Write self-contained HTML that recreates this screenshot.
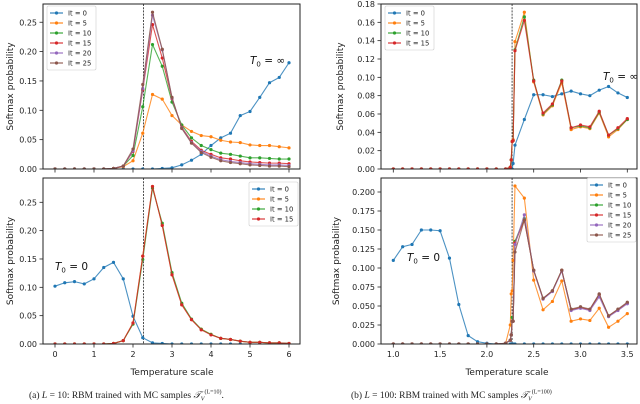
<!DOCTYPE html>
<html><head><meta charset="utf-8">
<style>
html,body{margin:0;padding:0;background:#fff;}
svg{display:block;font-family:"DejaVu Sans","Liberation Sans",sans-serif;}
.cap{font-family:"Liberation Serif",serif;font-size:9.5px;}
</style></head>
<body>
<svg id="fig" width="640" height="404" viewBox="0 0 640 404"></svg>
<script>
// ---------- DATA ----------
const tLeft = [0,0.25,0.5,0.75,1,1.25,1.5,1.75,2,2.25,2.5,2.75,3,3.25,3.5,3.75,4,4.25,4.5,4.75,5,5.25,5.5,5.75,6];
const tRight = [1.0,1.1,1.2,1.3,1.4,1.5,1.6,1.7,1.8,1.9,2.0,2.1,2.2,2.25,2.26,2.27,2.28,2.3,2.4,2.5,2.6,2.7,2.8,2.9,3.0,3.1,3.2,3.3,3.4,3.5];

// (a) top: T0 = inf
const aTopIt0  = [0,0,0,0,0,0,0,0,0,0,0,0.001,0.002,0.007,0.015,0.025,0.040,0.053,0.061,0.091,0.098,0.122,0.147,0.156,0.181];
const aTopIt5  = [0,0,0,0,0,0,0.001,0.004,0.014,0.061,0.127,0.119,0.091,0.075,0.064,0.057,0.055,0.049,0.046,0.045,0.041,0.040,0.040,0.038,0.036];
const aTopIt10 = [0,0,0,0,0,0,0.001,0.005,0.023,0.106,0.212,0.175,0.114,0.075,0.053,0.040,0.033,0.027,0.025,0.022,0.019,0.019,0.018,0.017,0.017];
const aTopIt15 = [0,0,0,0,0,0,0.001,0.005,0.030,0.135,0.246,0.189,0.120,0.071,0.047,0.032,0.025,0.019,0.017,0.014,0.012,0.011,0.010,0.010,0.009];
const aTopIt20 = [0,0,0,0,0,0,0.001,0.005,0.031,0.137,0.262,0.203,0.121,0.070,0.045,0.030,0.022,0.016,0.013,0.011,0.009,0.008,0.007,0.007,0.006];
const aTopIt25 = [0,0,0,0,0,0,0.001,0.005,0.034,0.144,0.267,0.204,0.122,0.069,0.044,0.028,0.020,0.014,0.011,0.009,0.007,0.006,0.005,0.005,0.004];

// (a) bottom: T0 = 0
const aBotIt0  = [0.102,0.108,0.110,0.106,0.115,0.135,0.144,0.115,0.049,0.011,0.002,0.001,0,0,0,0,0,0,0,0,0,0,0,0,0];
const aBotIt5  = [0,0,0,0,0,0,0.001,0.006,0.037,0.155,0.278,0.210,0.123,0.070,0.043,0.026,0.017,0.010,0.008,0.005,0.003,0.003,0.002,0.002,0.001];
const aBotIt10 = [0,0,0,0,0,0,0.001,0.006,0.035,0.149,0.275,0.213,0.126,0.072,0.044,0.026,0.017,0.010,0.008,0.005,0.003,0.003,0.002,0.002,0.001];
const aBotIt15 = [0,0,0,0,0,0,0.001,0.006,0.037,0.155,0.278,0.209,0.122,0.069,0.043,0.025,0.016,0.010,0.008,0.005,0.003,0.003,0.002,0.002,0.001];

// (b) top: T0 = inf
const bTopIt0  = [0,0,0,0,0,0,0,0,0,0,0,0,0,0,0,0,0.006,0.026,0.054,0.081,0.081,0.079,0.082,0.085,0.082,0.080,0.086,0.090,0.083,0.078];
const bTopIt5  = [0,0,0,0,0,0,0,0,0,0,0,0,0,0.002,0.010,0.030,0.032,0.139,0.171,0.095,0.059,0.069,0.094,0.043,0.046,0.044,0.061,0.035,0.043,0.054];
const bTopIt10 = [0,0,0,0,0,0,0,0,0,0,0,0,0,0.002,0.010,0.030,0.031,0.130,0.166,0.097,0.060,0.070,0.097,0.045,0.047,0.045,0.062,0.037,0.044,0.054];
const bTopIt15 = [0,0,0,0,0,0,0,0,0,0,0,0,0,0.002,0.010,0.030,0.031,0.129,0.162,0.096,0.061,0.071,0.096,0.045,0.048,0.046,0.063,0.037,0.045,0.055];

// (b) bottom: T0 = 0
const bBotIt0  = [0.110,0.128,0.131,0.150,0.150,0.149,0.113,0.052,0.011,0.003,0.001,0,0,0,0,0,0,0,0,0,0,0,0,0,0,0,0,0,0,0];
const bBotIt5  = [0,0,0,0,0,0,0,0,0,0,0,0,0.001,0.025,0.066,0.070,0.110,0.208,0.192,0.084,0.045,0.056,0.083,0.030,0.033,0.031,0.047,0.022,0.030,0.040];
const bBotIt10 = [0,0,0,0,0,0,0,0,0,0,0,0,0.001,0.005,0.012,0.035,0.030,0.135,0.165,0.097,0.060,0.070,0.097,0.045,0.048,0.045,0.065,0.037,0.045,0.054];
const bBotIt15 = [0,0,0,0,0,0,0,0,0,0,0,0,0.001,0.005,0.012,0.030,0.030,0.133,0.163,0.097,0.060,0.070,0.097,0.045,0.048,0.045,0.065,0.037,0.045,0.054];
const bBotIt20 = [0,0,0,0,0,0,0,0,0,0,0,0,0.001,0.005,0.012,0.030,0.030,0.131,0.170,0.096,0.059,0.069,0.096,0.044,0.047,0.044,0.062,0.036,0.044,0.053];
const bBotIt25 = [0,0,0,0,0,0,0,0,0,0,0,0,0.001,0.005,0.012,0.030,0.030,0.121,0.163,0.097,0.060,0.070,0.097,0.046,0.049,0.046,0.066,0.037,0.046,0.055];

const ticksLeftX = [0,1,2,3,4,5,6];
const ticksRightX = [1.0,1.5,2.0,2.5,3.0,3.5];
const ticksATop = [0,0.05,0.10,0.15,0.20,0.25];
const ticksABot = [0,0.05,0.10,0.15,0.20,0.25];
const ticksBTop = [0,0.02,0.04,0.06,0.08,0.10,0.12,0.14,0.16,0.18];
const ticksBBot = [0,0.025,0.05,0.075,0.1,0.125,0.15,0.175,0.2];
const Tc = 2.269;

const colors = ['#1f77b4','#ff7f0e','#2ca02c','#d62728','#9467bd','#8c564b'];
const labels = ['It = 0','It = 5','It = 10','It = 15','It = 20','It = 25'];

// ---------- DRAW ----------
const NS='http://www.w3.org/2000/svg';
const fig=document.getElementById('fig');
function el(tag,attrs,parent){const e=document.createElementNS(NS,tag);for(const k in attrs)e.setAttribute(k,attrs[k]);(parent||fig).appendChild(e);return e;}

function panel(cfg){
  const g=el('g',{});
  
  
  const X=v=>cfg.x0px+(v-cfg.xv0)*cfg.xs;
  const Y=v=>cfg.y0px-v*cfg.ys;
  const cid='clip-'+cfg.name;
  const cp=el('clipPath',{id:cid},g);
  el('rect',{x:cfg.L,y:cfg.T,width:cfg.R-cfg.L,height:cfg.B-cfg.T},cp);
  const tl=el('line',{x1:X(Tc),x2:X(Tc),y1:cfg.T,y2:cfg.B,stroke:'#222','stroke-width':0.8,'stroke-dasharray':'2,1.2'},g);
  
  
  cfg.series.forEach((s,i)=>{
    const sg=el('g',{'clip-path':'url(#'+cid+')'},g);
    
    
    const pts=s.map((v,j)=>X(cfg.t[j]).toFixed(2)+','+Y(v).toFixed(2)).join(' ');
    el('polyline',{points:pts,fill:'none',stroke:colors[i],'stroke-width':1.1,'stroke-opacity':0.8},sg);
    s.forEach((v,j)=>{
      const c=el('circle',{cx:X(cfg.t[j]),cy:Y(v),r:1.6,fill:colors[i]},sg);
      
      
    });
  });
  el('rect',{x:cfg.L,y:cfg.T,width:cfg.R-cfg.L,height:cfg.B-cfg.T,fill:'none',stroke:'#222','stroke-width':1},g);
  cfg.xt.forEach(v=>{
    el('line',{x1:X(v),x2:X(v),y1:cfg.B,y2:cfg.B+3.5,stroke:'#222','stroke-width':0.8},g);
    if(cfg.xlabels){const t=el('text',{x:X(v),y:cfg.B+13,'text-anchor':'middle','font-size':8,fill:'#222'},g);t.textContent=cfg.xfmt(v);
      }
  });
  cfg.yt.forEach(v=>{
    el('line',{x1:cfg.L-3.5,x2:cfg.L,y1:Y(v),y2:Y(v),stroke:'#222','stroke-width':0.8},g);
    const t=el('text',{x:cfg.L-6,y:Y(v)+3,'text-anchor':'end','font-size':8,fill:'#222'},g);t.textContent=v.toFixed(cfg.yd);
    
  });
  const yl=el('text',{x:0,y:0,transform:'translate('+cfg.ylx+','+((cfg.T+cfg.B)/2)+') rotate(-90)','text-anchor':'middle','font-size':9,fill:'#222'},g);
  yl.textContent='Softmax probability';
  
  const n=cfg.series.length;
  const lg=el('g',{},g);
  
  el('rect',{x:cfg.lx,y:cfg.ly,width:49,height:n*10+4,fill:'#fff','fill-opacity':0.85,stroke:'#ccc','stroke-width':0.6,rx:1.5},lg);
  for(let i=0;i<n;i++){
    const yy=cfg.ly+7+i*10;
    const e=el('g',{},lg);
    
    el('line',{x1:cfg.lx+3,x2:cfg.lx+16,y1:yy,y2:yy,stroke:colors[i],'stroke-width':1.1},e);
    el('circle',{cx:cfg.lx+9.5,cy:yy,r:1.6,fill:colors[i]},e);
    const t=el('text',{x:cfg.lx+21,y:yy+2.5,'font-size':6.8,fill:'#222'},e);t.textContent=labels[i];
  }
  const an=el('text',{x:cfg.ax,y:cfg.ay,'font-size':10.5,fill:'#111'},g);
  
  an.innerHTML='<tspan font-style="italic">T</tspan><tspan font-size="7" dy="2.5">0</tspan><tspan dy="-2.5"> = '+cfg.aval+'</tspan>';
}

panel({name:'panel-a-top',L:43,R:300,T:4,B:169,x0px:55,xv0:0,xs:39,y0px:169,ys:587,t:tLeft,
  series:[aTopIt0,aTopIt5,aTopIt10,aTopIt15,aTopIt20,aTopIt25],xt:ticksLeftX,xlabels:false,yt:ticksATop,yd:2,ylx:13,
  lx:47,ly:6,ax:250,ay:64,aval:'∞'});
panel({name:'panel-a-bottom',L:43,R:300,T:178,B:344,x0px:55,xv0:0,xs:39,y0px:344,ys:566.8,t:tLeft,
  series:[aBotIt0,aBotIt5,aBotIt10,aBotIt15],xt:ticksLeftX,xlabels:true,xfmt:v=>String(v),yt:ticksABot,yd:2,ylx:13,
  lx:249,ly:182,ax:55,ay:270,aval:'0'});
panel({name:'panel-b-top',L:381,R:637,T:4,B:169,x0px:393.3,xv0:1,xs:93.6,y0px:169,ys:916.7,t:tRight,
  series:[bTopIt0,bTopIt5,bTopIt10,bTopIt15],xt:ticksRightX,xlabels:false,yt:ticksBTop,yd:2,ylx:343,
  lx:385,ly:6,ax:603,ay:80,aval:'∞'});
panel({name:'panel-b-bottom',L:381,R:637,T:178,B:344,x0px:393.3,xv0:1,xs:93.6,y0px:344,ys:760,t:tRight,
  series:[bBotIt0,bBotIt5,bBotIt10,bBotIt15,bBotIt20,bBotIt25],xt:ticksRightX,xlabels:true,xfmt:v=>v.toFixed(1),yt:ticksBBot,yd:3,ylx:339,
  lx:587,ly:178,ax:407,ay:261,aval:'0'});

[[172,'x-axis-title-a'],[507,'x-axis-title-b']].forEach(([x,n])=>{
  const t=el('text',{x:x,y:375,'text-anchor':'middle','font-size':9,fill:'#222'});t.textContent='Temperature scale';
  
});
const c1=el('text',{x:29,y:398,class:'cap',fill:'#222'});

c1.innerHTML='(a) <tspan font-style="italic">L</tspan> = 10: RBM trained with MC samples <tspan font-style="italic">𝒯</tspan><tspan font-size="6" dy="2.5" font-style="italic">V</tspan><tspan font-size="6" dy="-7">(L=10)</tspan><tspan dy="4.5">.</tspan>';
const c2=el('text',{x:351,y:398,class:'cap',fill:'#222'});

c2.innerHTML='(b) <tspan font-style="italic">L</tspan> = 100: RBM trained with MC samples <tspan font-style="italic">𝒯</tspan><tspan font-size="6" dy="2.5" font-style="italic">V</tspan><tspan font-size="6" dy="-7">(L=100)</tspan>';
</script>
</body></html>
